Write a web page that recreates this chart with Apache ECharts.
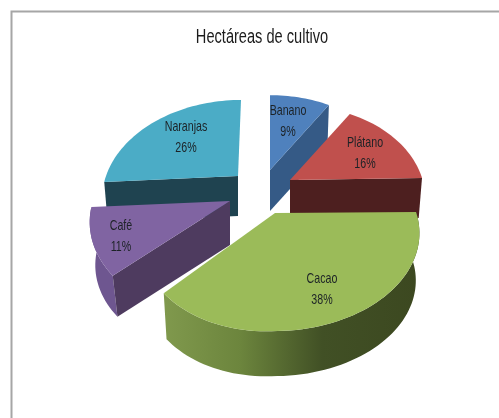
<!DOCTYPE html>
<html>
<head>
<meta charset="utf-8">
<title>Hectáreas de cultivo</title>
<script src="https://cdn.jsdelivr.net/npm/echarts@6/dist/echarts.min.js"></script>
<style>
  html, body { margin: 0; padding: 0; background: #fff; overflow: hidden; }
  #chart { width: 499px; height: 418px; }
</style>
</head>
<body>
<div id="chart"></div>
<script>
// Data (percent of total)
const categories = ['Banano', 'Plátano', 'Cacao', 'Café', 'Naranjas'];
const values = [9, 16, 38, 11, 26];
const chartTitle = 'Hectáreas de cultivo';

const FONT = '"Liberation Sans", sans-serif';
const TEXT_SQUEEZE = 0.71; // no condensed font installed, so squeeze horizontally

// ECharts has no 3D pie, so each exploded slice is a custom shape.
// ax/ay = slice tip on screen, rx/ry = radii, cut = which radial side shows its wall
const sliceStyle = {
  'Banano':   { ax: 270, ay: 170, rx: 130, ry: 91,   depth: 41, top: '#4f81bd', cut: 'end',   wall: '#355a86', order: 1, lx: 288, ly: 121 },
  'Plátano':  { ax: 290, ay: 180, rx: 132, ry: 91,   depth: 40, top: '#c0504d', cut: 'end',   wall: '#4d1f1f', order: 3, lx: 365, ly: 153, tilt: -2 },
  'Cacao':    { ax: 275, ay: 213, rx: 141, rxLeft: 130, ry: 92.5, depth: 48, top: '#9bbb59', rim: 'cacao', order: 5, lx: 322, ly: 289, tilt: -1, tiltLeft: -8 },
  'Café':     { ax: 230, ay: 201, rx: 137, ry: 93,   depth: 44, bottom: 0.96, top: '#8064a2', cut: 'start', wall: '#4e3b5f', rim: '#6e5690', order: 4, lx: 121, ly: 236 },
  'Naranjas': { ax: 238, ay: 176, rx: 132, ry: 92.5, depth: 40, top: '#4bacc6', cut: 'start', wall: '#1f4350', order: 2, lx: 186, ly: 137, skew: 3 }
};

const PERSPECTIVE = 0.2165; // back of the pie is squeezed, front is stretched
const BOTTOM_SCALE = 0.975;

function project(s, deg, scale, down) {
  const t = deg * Math.PI / 180;
  const X = Math.sin(t);
  const Y = Math.cos(t);
  const w = 1 + PERSPECTIVE * Y;
  const rx = X < 0 && s.rxLeft ? s.rxLeft : s.rx;
  const tilt = X < 0 && s.tiltLeft ? s.tiltLeft : (s.tilt || 0);
  return [
    s.ax + (rx * X / w + (s.skew || 0) * Y) * scale,
    s.ay + (-s.ry * Y / w + tilt * X) * scale + down
  ];
}

function arc(s, from, to, scale, down) {
  const pts = [];
  const n = Math.max(2, Math.ceil(Math.abs(to - from) / 2));
  for (let i = 0; i <= n; i++) {
    pts.push(project(s, from + (to - from) * i / n, scale, down));
  }
  return pts;
}

function renderSlice(params, api) {
  const name = categories[params.dataIndex];
  const s = sliceStyle[name];
  const total = values.reduce((a, b) => a + b, 0);
  const before = values.slice(0, params.dataIndex).reduce((a, b) => a + b, 0);
  const start = before / total * 360;
  const end = (before + api.value(0)) / total * 360;
  const bottom = s.bottom || BOTTOM_SCALE;
  const children = [];
  const z = s.order * 10;

  // outer rim wall
  if (s.rim) {
    const fill = s.rim === 'cacao'
      ? new echarts.graphic.LinearGradient(0, 0, 1, 0, [
          { offset: 0, color: '#80994d' },
          { offset: 0.3, color: '#6c853d' },
          { offset: 0.62, color: '#415025' },
          { offset: 1, color: '#3c4820' }
        ])
      : s.rim;
    children.push({
      type: 'polygon',
      z2: z,
      shape: { points: arc(s, start, end, 1, 0).concat(arc(s, end, start, bottom, s.depth)) },
      style: { fill: fill }
    });
  }

  // flat wall on the radial cut
  if (s.cut) {
    const edge = s.cut === 'end' ? end : start;
    const outerTop = project(s, edge, 1, 0);
    const outerBottom = project(s, edge, bottom, s.depth);
    children.push({
      type: 'polygon',
      z2: z + 1,
      shape: { points: [[s.ax, s.ay], outerTop, outerBottom, [s.ax, s.ay + s.depth]] },
      style: { fill: s.wall }
    });
  }

  // top face
  children.push({
    type: 'polygon',
    z2: z + 2,
    shape: { points: [[s.ax, s.ay]].concat(arc(s, start, end, 1, 0)) },
    style: { fill: s.top }
  });

  children.push({
    type: 'text',
    z2: 100,
    x: s.lx,
    y: s.ly,
    scaleX: TEXT_SQUEEZE,
    style: {
      x: 0,
      y: 0,
      text: name + '\n' + Math.round(api.value(0) / total * 100) + '%',
      textAlign: 'center',
      textVerticalAlign: 'middle',
      fontFamily: FONT,
      fontSize: 15,
      lineHeight: 21,
      fill: '#1c2226'
    }
  });

  return { type: 'group', children: children };
}

const chart = echarts.init(document.getElementById('chart'), null, { renderer: 'canvas' });
chart.setOption({
  animation: false,
  backgroundColor: '#ffffff',
  graphic: [{
    type: 'polyline',
    shape: { points: [[11.5, 418], [11.5, 11.5], [499, 11.5]] },
    style: { stroke: '#a6a6a6', lineWidth: 2, fill: null }
  }, {
    type: 'text',
    x: 262,
    y: 37,
    scaleX: 0.73,
    style: {
      x: 0,
      y: 0,
      text: chartTitle,
      textAlign: 'center',
      textVerticalAlign: 'middle',
      fontFamily: FONT,
      fontSize: 20,
      fill: '#1c1c1c'
    }
  }],
  series: [{
    type: 'custom',
    coordinateSystem: 'none',
    silent: true,
    renderItem: renderSlice,
    data: values.map(v => [v])
  }]
});
</script>
</body>
</html>
